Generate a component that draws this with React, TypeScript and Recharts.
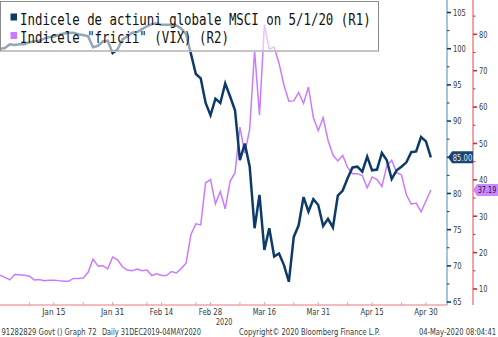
import React from 'react';
import { LineChart, Line, XAxis, YAxis, ReferenceDot } from 'recharts';

const W = 498;
const H = 337;

// MSCI global equity index, rebased (R1), one value per weekday 31 Dec 2019 .. 1 May 2020
const msci = [
  100.0, 100.1, 100.6, 100.5, 100.6, 100.6, 100.9, 101.0, 101.1, 101.4,
  101.6, 101.7, 101.9, 102.1, 102.2, 102.2, 102.0, 101.9, 101.7, 100.2,
  100.4, 101.0, 101.1, 99.4, 99.9, 101.3, 101.7, 102.2, 102.3, 102.7,
  103.1, 103.4, 103.5, 103.3, 103.3, 103.3, 103.2, 102.8, 102.0, 99.3,
  96.5, 95.9, 92.5, 90.8, 93.1, 92.5, 95.2, 93.4, 91.5, 84.6,
  86.9, 83.7, 75.2, 79.8, 72.2, 75.2, 71.3, 71.7, 70.1, 67.8,
  74.0, 75.6, 79.5, 77.5, 79.2, 78.4, 75.5, 76.5, 75.3, 79.7,
  80.4, 82.1, 83.6, 83.7, 83.0, 85.1, 83.2, 83.3, 85.6, 84.6,
  82.0, 83.2, 83.7, 84.3, 85.7, 85.8, 87.8, 87.2, 85.0,
];

// VIX "fear" index (R2)
const vix = [
  13.8, 13.2, 12.5, 14.0, 13.9, 13.8, 13.5, 12.5, 12.6, 12.3,
  12.4, 12.4, 12.3, 12.1, 12.1, 12.9, 12.9, 13.0, 14.6, 18.2,
  16.3, 16.4, 15.5, 18.8, 18.0, 16.1, 15.2, 15.0, 15.5, 15.0,
  15.2, 13.7, 14.2, 13.7, 13.7, 14.8, 14.4, 15.6, 17.1, 25.0,
  27.9, 27.6, 39.2, 40.1, 33.4, 36.8, 32.0, 39.6, 41.9, 54.5,
  47.3, 53.9, 75.5, 57.8, 82.7, 75.9, 76.5, 72.0, 66.0, 61.6,
  61.7, 64.0, 61.0, 65.5, 57.1, 53.5, 57.1, 50.9, 46.8, 45.2,
  46.7, 43.4, 41.7, 41.7, 41.2, 37.8, 40.8, 40.1, 38.2, 43.8,
  45.4, 42.0, 41.4, 35.9, 33.3, 33.6, 31.2, 34.2, 37.19,
];

const xLabelIdx = [11, 23, 33, 43, 54, 65, 76, 87];
const xLabelText = ['Jan 15', 'Jan 31', 'Feb 14', 'Feb 28', 'Mar 16', 'Mar 31', 'Apr 15', 'Apr 30'];
const xMinorIdx = [6, 17, 30, 40, 49, 60, 71, 82];

const r1Ticks = [65, 67.5, 70, 72.5, 75, 77.5, 80, 82.5, 85, 87.5, 90, 92.5, 95, 97.5, 100, 102.5, 105];
const r2Ticks = [10, 15, 20, 25, 30, 35, 40, 45, 50, 55, 60, 65, 70, 75, 80, 85];

const legendTitles = ['Indicele de actiuni globale MSCI on 5/1/20 (R1)', 'Indicele "fricii" (VIX) (R2)'];

const X_MAX = 91.3;
const R1_DOMAIN: [number, number] = [64.59, 106.73];
const R2_DOMAIN: [number, number] = [5.6, 89.43];

const NAVY = '#0c3b69';
const VIOLET = '#c97bff';
const PINK_AXIS = '#f1a3a6';
const BLUE_AXIS = '#a9c3da';
const TXT = '#333a40';

const lastMsci = msci[msci.length - 1];
const lastVix = vix[vix.length - 1];

const data = msci.map((m, i) => ({ i, msci: m, vix: vix[i] }));

type TProps = {
  x: number; y: number; text: string; size: number; perChar: number;
  anchor?: 'start' | 'middle' | 'end'; fill?: string; family?: string; width?: number;
};
const T = ({ x, y, text, size, perChar, anchor = 'start', fill = TXT, family = 'DejaVu Sans', width }: TProps) => {
  const w = width ?? text.length * perChar;
  const sx = anchor === 'middle' ? x - w / 2 : anchor === 'end' ? x - w : x;
  return (
    <text x={sx} y={y} fontSize={size} fontFamily={family} fill={fill}
      textLength={w} lengthAdjust="spacingAndGlyphs">{text}</text>
  );
};

const XTick = (props: any) => {
  const { x, y, payload } = props;
  const k = xLabelIdx.indexOf(payload.value);
  return (
    <g>
      <line x1={x} x2={x} y1={y - 3} y2={y + 1} stroke={PINK_AXIS} strokeWidth={1} />
      {k >= 0 && <T x={x} y={y + 10} text={xLabelText[k]} size={9.5} perChar={3.9} anchor="middle" />}
    </g>
  );
};

const R1Tick = (props: any) => {
  const { x, y, payload } = props;
  const v = payload.value as number;
  const major = v % 5 === 0;
  const hidden = Math.abs(v - lastMsci) < 1.5; // covered by the last-value tag
  return (
    <g>
      <line x1={x} x2={x + (major ? 4 : 2.5)} y1={y} y2={y} stroke={NAVY} strokeWidth={major ? 1.6 : 1} />
      {major && !hidden && <T x={x + 6} y={y + 3.3} text={String(v)} size={9} perChar={4.3} />}
    </g>
  );
};

const R2Tick = (props: any) => {
  const { x, y, payload } = props;
  const v = payload.value as number;
  const major = v % 10 === 0;
  const hidden = Math.abs(v - lastVix) < 1.5;
  return (
    <g>
      <line x1={x} x2={x + (major ? 4 : 2.5)} y1={y} y2={y} stroke="#e0262c" strokeWidth={major ? 1.6 : 1} />
      {major && !hidden && <T x={x + 6} y={y + 3.3} text={String(v)} size={9} perChar={4.2} />}
    </g>
  );
};

const R1Tag = (props: any) => {
  const { cx, cy } = props;
  const label = lastMsci.toFixed(2);
  return (
    <g>
      <polygon points={`${cx + 1},${cy} ${cx + 5},${cy - 6} ${cx + 26},${cy - 6} ${cx + 26},${cy + 6} ${cx + 5},${cy + 6}`}
        fill="#1d4470" />
      <T x={cx + 15.5} y={cy + 3.4} text={label} size={9} perChar={3.9} anchor="middle" fill="#e4eaf0" />
    </g>
  );
};

const R2Tag = (props: any) => {
  const { cx, cy } = props;
  const x0 = cx + 26;
  const label = lastVix.toFixed(2);
  return (
    <g>
      <polygon points={`${x0},${cy} ${x0 + 4},${cy - 6} ${x0 + 25},${cy - 6} ${x0 + 25},${cy + 6} ${x0 + 4},${cy + 6}`}
        fill="#cc88ff" />
      <T x={x0 + 14} y={cy + 3.4} text={label} size={9} perChar={3.7} anchor="middle" fill="#2a1040" />
    </g>
  );
};

export default function App() {
  return (
    <div style={{ position: 'absolute', left: 0, top: 0, width: W, height: H, background: '#fff' }}>
      <LineChart width={W} height={H} data={data} margin={{ top: 0, right: 0, bottom: 0, left: 0 }}>
        <XAxis dataKey="i" type="number" domain={[0, X_MAX]} allowDataOverflow
          ticks={[...xLabelIdx, ...xMinorIdx].sort((a, b) => a - b)} interval={0}
          tickSize={0} tickMargin={0} height={32} tickLine={false}
          axisLine={{ stroke: PINK_AXIS, strokeWidth: 1.5 }} tick={<XTick />} />
        <YAxis yAxisId="r1" orientation="right" width={26} domain={R1_DOMAIN} allowDataOverflow
          ticks={r1Ticks} interval={0} tickSize={0} tickMargin={0} tickLine={false}
          axisLine={{ stroke: BLUE_AXIS, strokeWidth: 2 }} tick={<R1Tick />} />
        <YAxis yAxisId="r2" orientation="right" width={25} domain={R2_DOMAIN} allowDataOverflow
          ticks={r2Ticks} interval={0} tickSize={0} tickMargin={0} tickLine={false}
          axisLine={{ stroke: PINK_AXIS, strokeWidth: 2 }} tick={<R2Tick />} />
        <Line yAxisId="r2" dataKey="vix" stroke={VIOLET} strokeWidth={1.5} dot={false} activeDot={false}
          isAnimationActive={false} />
        <Line yAxisId="r1" dataKey="msci" stroke={NAVY} strokeWidth={2.5} dot={false} activeDot={false}
          isAnimationActive={false} />
        <ReferenceDot yAxisId="r1" x={X_MAX} y={lastMsci} r={0} ifOverflow="visible" shape={<R1Tag />} />
        <ReferenceDot yAxisId="r2" x={X_MAX} y={lastVix} r={0} ifOverflow="visible" shape={<R2Tag />} />
      </LineChart>
      <svg width={W} height={H} style={{ position: 'absolute', left: 0, top: 0, pointerEvents: 'none' }}>
        <rect x={0.5} y={1.5} width={378} height={49.5} fill="#ffffff" fillOpacity={0.55} stroke="#8c8c8c" strokeWidth={1} />
        <line x1={1} x2={379} y1={51.5} y2={51.5} stroke="#c4c4c4" strokeWidth={1} />
        <rect x={10.5} y={13.5} width={6.5} height={7} fill={NAVY} />
        <rect x={10.5} y={32} width={6.5} height={7} fill={VIOLET} />
        <T x={20} y={24.5} text={legendTitles[0]} size={16} perChar={7.46} fill="#111" family="DejaVu Sans Mono" />
        <T x={20} y={43} text={legendTitles[1]} size={16} perChar={7.46} fill="#111" family="DejaVu Sans Mono" />
        <T x={216} y={324.5} text="2020" size={8.5} perChar={4.1} />
        <T x={1.5} y={334.5} text="91282829 Govt () Graph 72" size={8} perChar={3.8} />
        <T x={102} y={334.5} text="Daily 31DEC2019-04MAY2020" size={8} perChar={3.96} />
        <T x={239} y={334.5} text="Copyright© 2020 Bloomberg Finance L.P." size={8} perChar={3.71} />
        <T x={419} y={334.5} text="04-May-2020 08:04:41" size={8} perChar={3.85} />
      </svg>
    </div>
  );
}
